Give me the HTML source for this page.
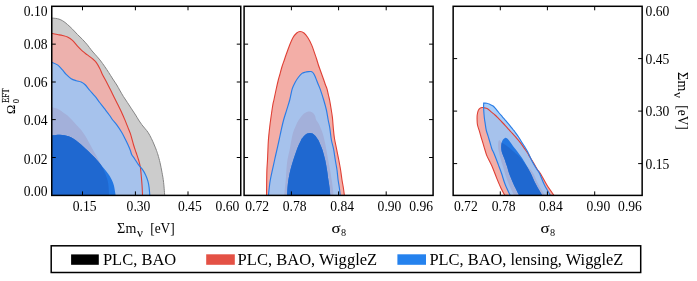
<!DOCTYPE html>
<html><head><meta charset="utf-8"><title>contours</title>
<style>
html,body{margin:0;padding:0;background:#fff;}
svg{display:block;}
text{font-family:"Liberation Serif",serif;fill:#000;}
</style></head>
<body>
<svg width="697" height="281" viewBox="0 0 697 281">
<rect x="0" y="0" width="697" height="281" fill="#ffffff"/>
<defs>
<filter id="noaa" filterUnits="userSpaceOnUse" x="0" y="0" width="697" height="281"><feOffset dx="0" dy="0"/></filter>
<clipPath id="c_p1_B95"><path d="M51.00,61.90 C52.08,62.40 55.58,63.57 57.50,64.90 C59.42,66.23 61.05,68.32 62.50,69.90 C63.95,71.48 64.75,72.93 66.20,74.40 C67.65,75.87 69.53,77.65 71.20,78.70 C72.87,79.75 74.53,80.15 76.20,80.70 C77.87,81.25 79.75,81.37 81.20,82.00 C82.65,82.63 83.45,83.08 84.90,84.50 C86.35,85.92 88.23,88.55 89.90,90.50 C91.57,92.45 93.27,94.20 94.90,96.20 C96.53,98.20 98.10,100.42 99.70,102.50 C101.30,104.58 102.90,106.62 104.50,108.70 C106.10,110.78 107.93,113.12 109.30,115.00 C110.67,116.88 111.48,118.38 112.70,120.00 C113.92,121.62 115.08,122.62 116.60,124.70 C118.12,126.78 120.37,130.12 121.80,132.50 C123.23,134.88 124.15,136.92 125.20,139.00 C126.25,141.08 127.27,143.17 128.10,145.00 C128.93,146.83 129.58,148.38 130.20,150.00 C130.82,151.62 131.07,153.25 131.80,154.70 C132.53,156.15 133.47,157.00 134.60,158.70 C135.73,160.40 137.30,163.12 138.60,164.90 C139.90,166.68 141.23,167.73 142.40,169.40 C143.57,171.07 144.68,172.93 145.60,174.90 C146.52,176.87 147.32,179.12 147.90,181.20 C148.48,183.28 148.77,184.77 149.10,187.40 C149.43,190.03 149.77,195.40 149.90,197.00 L50.00,197.00 L50.00,61.90 Z"/></clipPath>
<clipPath id="c_p1_B68"><path d="M51.00,135.60 C51.83,135.48 54.50,135.05 56.00,134.90 C57.50,134.75 58.58,134.65 60.00,134.70 C61.42,134.75 63.08,134.95 64.50,135.20 C65.92,135.45 66.98,135.62 68.50,136.20 C70.02,136.78 71.92,137.65 73.60,138.70 C75.28,139.75 76.95,141.15 78.60,142.50 C80.25,143.85 81.87,145.35 83.50,146.80 C85.13,148.25 86.78,149.67 88.40,151.20 C90.02,152.73 91.70,154.47 93.20,156.00 C94.70,157.53 95.78,158.53 97.40,160.40 C99.02,162.27 101.17,165.05 102.90,167.20 C104.63,169.35 106.35,171.25 107.80,173.30 C109.25,175.35 110.58,177.45 111.60,179.50 C112.62,181.55 113.18,182.68 113.90,185.60 C114.62,188.52 115.57,195.10 115.90,197.00 L50.00,197.00 L50.00,135.60 Z"/></clipPath>
<clipPath id="c_p2_B95"><path d="M268.30,197.00 C268.45,195.50 268.87,190.83 269.20,188.00 C269.53,185.17 269.78,182.93 270.30,180.00 C270.82,177.07 271.58,173.73 272.30,170.40 C273.02,167.07 274.05,162.48 274.60,160.00 C275.15,157.52 274.85,158.83 275.60,155.50 C276.35,152.17 278.20,144.08 279.10,140.00 C280.00,135.92 280.25,134.33 281.00,131.00 C281.75,127.67 282.65,123.52 283.60,120.00 C284.55,116.48 285.68,113.23 286.70,109.90 C287.72,106.57 288.78,103.50 289.70,100.00 C290.62,96.50 291.28,91.87 292.20,88.90 C293.12,85.93 294.13,84.18 295.20,82.20 C296.27,80.22 297.47,78.47 298.60,77.00 C299.73,75.53 300.93,74.20 302.00,73.40 C303.07,72.60 303.92,72.50 305.00,72.20 C306.08,71.90 307.50,71.72 308.50,71.60 C309.50,71.48 310.35,71.42 311.00,71.50 C311.65,71.58 311.97,71.77 312.40,72.10 C312.83,72.43 313.17,72.82 313.60,73.50 C314.03,74.18 314.48,75.03 315.00,76.20 C315.52,77.37 316.13,79.07 316.70,80.50 C317.27,81.93 317.83,83.40 318.40,84.80 C318.97,86.20 319.22,86.37 320.10,88.90 C320.98,91.43 322.65,96.48 323.70,100.00 C324.75,103.52 325.65,106.67 326.40,110.00 C327.15,113.33 327.63,117.00 328.20,120.00 C328.77,123.00 329.27,124.67 329.80,128.00 C330.33,131.33 330.77,136.47 331.40,140.00 C332.03,143.53 332.95,145.87 333.60,149.20 C334.25,152.53 334.73,156.53 335.30,160.00 C335.87,163.47 336.53,166.67 337.00,170.00 C337.47,173.33 337.70,177.00 338.10,180.00 C338.50,183.00 339.02,185.17 339.40,188.00 C339.78,190.83 340.23,195.50 340.40,197.00 Z"/></clipPath>
<clipPath id="c_p2_B68"><path d="M287.00,197.00 C287.08,195.50 287.27,190.83 287.50,188.00 C287.73,185.17 287.92,183.00 288.40,180.00 C288.88,177.00 289.58,173.33 290.40,170.00 C291.22,166.67 292.23,163.38 293.30,160.00 C294.37,156.62 295.50,153.03 296.80,149.70 C298.10,146.37 300.10,142.03 301.10,140.00 C302.10,137.97 302.18,138.30 302.80,137.50 C303.42,136.70 304.07,135.85 304.80,135.20 C305.53,134.55 306.35,133.98 307.20,133.60 C308.05,133.22 309.00,132.90 309.90,132.90 C310.80,132.90 311.75,133.15 312.60,133.60 C313.45,134.05 314.27,134.83 315.00,135.60 C315.73,136.37 316.45,137.47 317.00,138.20 C317.55,138.93 317.72,138.87 318.30,140.00 C318.88,141.13 319.80,143.33 320.50,145.00 C321.20,146.67 321.72,147.50 322.50,150.00 C323.28,152.50 324.45,156.67 325.20,160.00 C325.95,163.33 326.47,166.67 327.00,170.00 C327.53,173.33 327.97,177.00 328.40,180.00 C328.83,183.00 329.27,185.17 329.60,188.00 C329.93,190.83 330.27,195.50 330.40,197.00 Z"/></clipPath>
<clipPath id="c_p3_B95"><path d="M510.90,197.00 C509.95,194.92 506.77,188.45 505.20,184.50 C503.63,180.55 502.63,176.57 501.50,173.30 C500.37,170.03 499.35,167.45 498.40,164.90 C497.45,162.35 496.57,159.98 495.80,158.00 C495.03,156.02 494.47,154.55 493.80,153.00 C493.13,151.45 492.43,150.45 491.80,148.70 C491.17,146.95 490.62,144.58 490.00,142.50 C489.38,140.42 488.73,138.28 488.10,136.20 C487.47,134.12 486.68,132.08 486.20,130.00 C485.72,127.92 485.52,125.78 485.20,123.70 C484.88,121.62 484.55,119.78 484.30,117.50 C484.05,115.22 483.82,111.92 483.70,110.00 C483.58,108.08 483.60,107.15 483.60,106.00 C483.60,104.85 483.68,103.58 483.70,103.10 L483.70,103.10 C484.22,103.12 485.75,102.98 486.80,103.20 C487.85,103.42 488.95,103.93 490.00,104.40 C491.05,104.87 492.17,105.28 493.10,106.00 C494.03,106.72 494.67,107.62 495.60,108.70 C496.53,109.78 497.57,111.15 498.70,112.50 C499.83,113.85 501.15,115.35 502.40,116.80 C503.65,118.25 504.95,119.73 506.20,121.20 C507.45,122.67 508.77,124.22 509.90,125.60 C511.03,126.98 512.15,128.43 513.00,129.50 C513.85,130.57 514.10,130.80 515.00,132.00 C515.90,133.20 517.27,134.98 518.40,136.70 C519.53,138.42 520.60,140.38 521.80,142.30 C523.00,144.22 524.60,146.58 525.60,148.20 C526.60,149.82 527.05,150.53 527.80,152.00 C528.55,153.47 529.25,155.20 530.10,157.00 C530.95,158.80 531.83,160.83 532.90,162.80 C533.97,164.77 535.37,166.98 536.50,168.80 C537.63,170.62 538.37,171.00 539.70,173.70 C541.03,176.40 542.55,181.12 544.50,185.00 C546.45,188.88 550.25,195.00 551.40,197.00 Z"/></clipPath>
<clipPath id="c_p3_B68"><path d="M520.00,197.00 C518.92,194.83 515.33,188.00 513.50,184.00 C511.67,180.00 510.07,175.90 509.00,173.00 C507.93,170.10 507.85,168.95 507.10,166.60 C506.35,164.25 505.13,160.67 504.50,158.90 C503.87,157.13 503.75,157.15 503.30,156.00 C502.85,154.85 502.15,153.42 501.80,152.00 C501.45,150.58 501.23,148.97 501.20,147.50 C501.17,146.03 501.32,144.50 501.60,143.20 C501.88,141.90 502.32,140.58 502.90,139.70 C503.48,138.82 504.38,138.10 505.10,137.90 C505.82,137.70 506.42,137.90 507.20,138.50 C507.98,139.10 508.87,140.28 509.80,141.50 C510.73,142.72 511.80,144.45 512.80,145.80 C513.80,147.15 514.87,148.38 515.80,149.60 C516.73,150.82 517.57,151.98 518.40,153.10 C519.23,154.22 519.75,154.77 520.80,156.30 C521.85,157.83 523.48,160.28 524.70,162.30 C525.92,164.32 527.12,166.62 528.10,168.40 C529.08,170.18 529.28,170.32 530.60,173.00 C531.92,175.68 533.90,180.50 536.00,184.50 C538.10,188.50 542.00,194.92 543.20,197.00 Z"/></clipPath>
<clipPath id="c_p1_R95"><path d="M51.00,33.20 C52.08,33.42 55.58,34.12 57.50,34.50 C59.42,34.88 60.83,35.08 62.50,35.50 C64.17,35.92 65.83,36.18 67.50,37.00 C69.17,37.82 70.83,38.87 72.50,40.40 C74.17,41.93 75.83,44.40 77.50,46.20 C79.17,48.00 80.85,49.75 82.50,51.20 C84.15,52.65 85.75,53.65 87.40,54.90 C89.05,56.15 90.93,57.45 92.40,58.70 C93.87,59.95 94.95,60.73 96.20,62.40 C97.45,64.07 98.87,66.70 99.90,68.70 C100.93,70.70 101.15,71.90 102.40,74.40 C103.65,76.90 105.73,80.48 107.40,83.70 C109.07,86.92 110.73,90.37 112.40,93.70 C114.07,97.03 115.95,100.78 117.40,103.70 C118.85,106.62 119.85,108.50 121.10,111.20 C122.35,113.90 123.77,117.20 124.90,119.90 C126.03,122.60 126.98,125.10 127.90,127.40 C128.82,129.70 129.45,130.77 130.40,133.70 C131.35,136.63 132.65,141.87 133.60,145.00 C134.55,148.13 135.27,150.00 136.10,152.50 C136.93,155.00 137.88,157.52 138.60,160.00 C139.32,162.48 139.93,164.50 140.40,167.40 C140.87,170.30 141.12,174.27 141.40,177.40 C141.68,180.53 141.90,182.93 142.10,186.20 C142.30,189.47 142.52,195.20 142.60,197.00 L50.00,197.00 L50.00,33.20 Z"/></clipPath>
<clipPath id="c_p3_R95"><path d="M505.70,197.00 C504.90,195.48 502.42,191.08 500.90,187.90 C499.38,184.72 498.12,181.60 496.60,177.90 C495.08,174.20 493.43,169.42 491.80,165.70 C490.17,161.98 487.93,158.22 486.80,155.60 C485.67,152.98 485.62,151.98 485.00,150.00 C484.38,148.02 483.73,145.78 483.10,143.70 C482.47,141.62 481.82,139.58 481.20,137.50 C480.58,135.42 480.02,133.28 479.40,131.20 C478.78,129.12 477.88,126.87 477.50,125.00 C477.12,123.13 477.15,121.67 477.10,120.00 C477.05,118.33 477.00,116.60 477.20,115.00 C477.40,113.40 477.80,111.55 478.30,110.40 C478.80,109.25 479.50,108.58 480.20,108.10 C480.90,107.62 481.92,107.57 482.50,107.50 C483.08,107.43 482.87,107.50 483.70,107.70 C484.53,107.90 486.25,108.00 487.50,108.70 C488.75,109.40 489.95,110.85 491.20,111.90 C492.45,112.95 493.75,113.87 495.00,115.00 C496.25,116.13 497.47,117.45 498.70,118.70 C499.93,119.95 501.27,121.32 502.40,122.50 C503.53,123.68 504.45,124.65 505.50,125.80 C506.55,126.95 507.77,128.37 508.70,129.40 C509.63,130.43 509.92,130.70 511.10,132.00 C512.28,133.30 514.30,135.48 515.80,137.20 C517.30,138.92 518.67,140.43 520.10,142.30 C521.53,144.17 523.10,146.53 524.40,148.40 C525.70,150.27 527.10,152.25 527.90,153.50 C528.70,154.75 528.27,154.35 529.20,155.90 C530.13,157.45 532.17,160.58 533.50,162.80 C534.83,165.02 536.00,167.32 537.20,169.20 C538.40,171.08 539.08,171.47 540.70,174.10 C542.32,176.73 544.50,181.18 546.90,185.00 C549.30,188.82 553.73,195.00 555.10,197.00 Z"/></clipPath>
</defs>
<clipPath id="clip1"><rect x="51.75" y="6.30" width="189.00" height="189.10"/></clipPath>
<g clip-path="url(#clip1)">
<path d="M51.00,18.00 C52.08,18.12 55.58,18.25 57.50,18.70 C59.42,19.15 60.83,19.73 62.50,20.70 C64.17,21.67 65.83,23.08 67.50,24.50 C69.17,25.92 70.83,27.53 72.50,29.20 C74.17,30.87 75.83,32.80 77.50,34.50 C79.17,36.20 80.85,37.67 82.50,39.40 C84.15,41.13 85.95,43.15 87.40,44.90 C88.85,46.65 89.95,48.35 91.20,49.90 C92.45,51.45 93.45,52.53 94.90,54.20 C96.35,55.87 98.23,57.80 99.90,59.90 C101.57,62.00 103.43,64.70 104.90,66.80 C106.37,68.90 107.38,70.47 108.70,72.50 C110.02,74.53 111.45,76.92 112.80,79.00 C114.15,81.08 115.67,83.17 116.80,85.00 C117.93,86.83 118.50,88.08 119.60,90.00 C120.70,91.92 122.10,94.42 123.40,96.50 C124.70,98.58 126.05,100.45 127.40,102.50 C128.75,104.55 130.13,106.72 131.50,108.80 C132.87,110.88 134.42,113.13 135.60,115.00 C136.78,116.87 137.57,118.38 138.60,120.00 C139.63,121.62 140.70,123.23 141.80,124.70 C142.90,126.17 144.15,127.50 145.20,128.80 C146.25,130.10 147.07,130.88 148.10,132.50 C149.13,134.12 150.37,136.42 151.40,138.50 C152.43,140.58 153.45,143.00 154.30,145.00 C155.15,147.00 155.88,148.83 156.50,150.50 C157.12,152.17 157.42,153.00 158.00,155.00 C158.58,157.00 159.33,159.60 160.00,162.50 C160.67,165.40 161.40,169.08 162.00,172.40 C162.60,175.72 163.13,178.30 163.60,182.40 C164.07,186.50 164.60,194.57 164.80,197.00 L50.00,197.00 L50.00,18.00 Z" fill="#cccccc"/>
<path d="M51.00,33.20 C52.08,33.42 55.58,34.12 57.50,34.50 C59.42,34.88 60.83,35.08 62.50,35.50 C64.17,35.92 65.83,36.18 67.50,37.00 C69.17,37.82 70.83,38.87 72.50,40.40 C74.17,41.93 75.83,44.40 77.50,46.20 C79.17,48.00 80.85,49.75 82.50,51.20 C84.15,52.65 85.75,53.65 87.40,54.90 C89.05,56.15 90.93,57.45 92.40,58.70 C93.87,59.95 94.95,60.73 96.20,62.40 C97.45,64.07 98.87,66.70 99.90,68.70 C100.93,70.70 101.15,71.90 102.40,74.40 C103.65,76.90 105.73,80.48 107.40,83.70 C109.07,86.92 110.73,90.37 112.40,93.70 C114.07,97.03 115.95,100.78 117.40,103.70 C118.85,106.62 119.85,108.50 121.10,111.20 C122.35,113.90 123.77,117.20 124.90,119.90 C126.03,122.60 126.98,125.10 127.90,127.40 C128.82,129.70 129.45,130.77 130.40,133.70 C131.35,136.63 132.65,141.87 133.60,145.00 C134.55,148.13 135.27,150.00 136.10,152.50 C136.93,155.00 137.88,157.52 138.60,160.00 C139.32,162.48 139.93,164.50 140.40,167.40 C140.87,170.30 141.12,174.27 141.40,177.40 C141.68,180.53 141.90,182.93 142.10,186.20 C142.30,189.47 142.52,195.20 142.60,197.00 L50.00,197.00 L50.00,33.20 Z" fill="#edb1ad"/>
<path d="M51.00,61.90 C52.08,62.40 55.58,63.57 57.50,64.90 C59.42,66.23 61.05,68.32 62.50,69.90 C63.95,71.48 64.75,72.93 66.20,74.40 C67.65,75.87 69.53,77.65 71.20,78.70 C72.87,79.75 74.53,80.15 76.20,80.70 C77.87,81.25 79.75,81.37 81.20,82.00 C82.65,82.63 83.45,83.08 84.90,84.50 C86.35,85.92 88.23,88.55 89.90,90.50 C91.57,92.45 93.27,94.20 94.90,96.20 C96.53,98.20 98.10,100.42 99.70,102.50 C101.30,104.58 102.90,106.62 104.50,108.70 C106.10,110.78 107.93,113.12 109.30,115.00 C110.67,116.88 111.48,118.38 112.70,120.00 C113.92,121.62 115.08,122.62 116.60,124.70 C118.12,126.78 120.37,130.12 121.80,132.50 C123.23,134.88 124.15,136.92 125.20,139.00 C126.25,141.08 127.27,143.17 128.10,145.00 C128.93,146.83 129.58,148.38 130.20,150.00 C130.82,151.62 131.07,153.25 131.80,154.70 C132.53,156.15 133.47,157.00 134.60,158.70 C135.73,160.40 137.30,163.12 138.60,164.90 C139.90,166.68 141.23,167.73 142.40,169.40 C143.57,171.07 144.68,172.93 145.60,174.90 C146.52,176.87 147.32,179.12 147.90,181.20 C148.48,183.28 148.77,184.77 149.10,187.40 C149.43,190.03 149.77,195.40 149.90,197.00 L50.00,197.00 L50.00,61.90 Z" fill="#a1c6f1"/>
<path d="M51.00,61.90 C52.08,62.40 55.58,63.57 57.50,64.90 C59.42,66.23 61.05,68.32 62.50,69.90 C63.95,71.48 64.75,72.93 66.20,74.40 C67.65,75.87 69.53,77.65 71.20,78.70 C72.87,79.75 74.53,80.15 76.20,80.70 C77.87,81.25 79.75,81.37 81.20,82.00 C82.65,82.63 83.45,83.08 84.90,84.50 C86.35,85.92 88.23,88.55 89.90,90.50 C91.57,92.45 93.27,94.20 94.90,96.20 C96.53,98.20 98.10,100.42 99.70,102.50 C101.30,104.58 102.90,106.62 104.50,108.70 C106.10,110.78 107.93,113.12 109.30,115.00 C110.67,116.88 111.48,118.38 112.70,120.00 C113.92,121.62 115.08,122.62 116.60,124.70 C118.12,126.78 120.37,130.12 121.80,132.50 C123.23,134.88 124.15,136.92 125.20,139.00 C126.25,141.08 127.27,143.17 128.10,145.00 C128.93,146.83 129.58,148.38 130.20,150.00 C130.82,151.62 131.07,153.25 131.80,154.70 C132.53,156.15 133.47,157.00 134.60,158.70 C135.73,160.40 137.30,163.12 138.60,164.90 C139.90,166.68 141.23,167.73 142.40,169.40 C143.57,171.07 144.68,172.93 145.60,174.90 C146.52,176.87 147.32,179.12 147.90,181.20 C148.48,183.28 148.77,184.77 149.10,187.40 C149.43,190.03 149.77,195.40 149.90,197.00 L50.00,197.00 L50.00,61.90 Z" fill="#a6c2ec" clip-path="url(#c_p1_R95)"/>
<path d="M51.00,106.90 C52.08,107.20 55.58,107.87 57.50,108.70 C59.42,109.53 60.83,110.75 62.50,111.90 C64.17,113.05 65.83,114.15 67.50,115.60 C69.17,117.05 71.00,119.03 72.50,120.60 C74.00,122.17 75.05,123.43 76.50,125.00 C77.95,126.57 79.78,128.23 81.20,130.00 C82.62,131.77 83.75,133.62 85.00,135.60 C86.25,137.58 87.47,139.72 88.70,141.90 C89.93,144.08 91.15,146.42 92.40,148.70 C93.65,150.98 94.95,153.30 96.20,155.60 C97.45,157.90 98.65,160.10 99.90,162.50 C101.15,164.90 102.60,167.58 103.70,170.00 C104.80,172.42 105.73,174.67 106.50,177.00 C107.27,179.33 107.87,180.67 108.30,184.00 C108.73,187.33 108.97,194.83 109.10,197.00 L50.00,197.00 L50.00,106.90 Z" fill="#a3b0da" clip-path="url(#c_p1_B95)"/>
<path d="M51.00,135.60 C51.83,135.48 54.50,135.05 56.00,134.90 C57.50,134.75 58.58,134.65 60.00,134.70 C61.42,134.75 63.08,134.95 64.50,135.20 C65.92,135.45 66.98,135.62 68.50,136.20 C70.02,136.78 71.92,137.65 73.60,138.70 C75.28,139.75 76.95,141.15 78.60,142.50 C80.25,143.85 81.87,145.35 83.50,146.80 C85.13,148.25 86.78,149.67 88.40,151.20 C90.02,152.73 91.70,154.47 93.20,156.00 C94.70,157.53 95.78,158.53 97.40,160.40 C99.02,162.27 101.17,165.05 102.90,167.20 C104.63,169.35 106.35,171.25 107.80,173.30 C109.25,175.35 110.58,177.45 111.60,179.50 C112.62,181.55 113.18,182.68 113.90,185.60 C114.62,188.52 115.57,195.10 115.90,197.00 L50.00,197.00 L50.00,135.60 Z" fill="#2377e2"/>
<path d="M51.00,106.90 C52.08,107.20 55.58,107.87 57.50,108.70 C59.42,109.53 60.83,110.75 62.50,111.90 C64.17,113.05 65.83,114.15 67.50,115.60 C69.17,117.05 71.00,119.03 72.50,120.60 C74.00,122.17 75.05,123.43 76.50,125.00 C77.95,126.57 79.78,128.23 81.20,130.00 C82.62,131.77 83.75,133.62 85.00,135.60 C86.25,137.58 87.47,139.72 88.70,141.90 C89.93,144.08 91.15,146.42 92.40,148.70 C93.65,150.98 94.95,153.30 96.20,155.60 C97.45,157.90 98.65,160.10 99.90,162.50 C101.15,164.90 102.60,167.58 103.70,170.00 C104.80,172.42 105.73,174.67 106.50,177.00 C107.27,179.33 107.87,180.67 108.30,184.00 C108.73,187.33 108.97,194.83 109.10,197.00 L50.00,197.00 L50.00,106.90 Z" fill="#1f68d0" clip-path="url(#c_p1_B68)"/>
<path d="M51.00,18.00 C52.08,18.12 55.58,18.25 57.50,18.70 C59.42,19.15 60.83,19.73 62.50,20.70 C64.17,21.67 65.83,23.08 67.50,24.50 C69.17,25.92 70.83,27.53 72.50,29.20 C74.17,30.87 75.83,32.80 77.50,34.50 C79.17,36.20 80.85,37.67 82.50,39.40 C84.15,41.13 85.95,43.15 87.40,44.90 C88.85,46.65 89.95,48.35 91.20,49.90 C92.45,51.45 93.45,52.53 94.90,54.20 C96.35,55.87 98.23,57.80 99.90,59.90 C101.57,62.00 103.43,64.70 104.90,66.80 C106.37,68.90 107.38,70.47 108.70,72.50 C110.02,74.53 111.45,76.92 112.80,79.00 C114.15,81.08 115.67,83.17 116.80,85.00 C117.93,86.83 118.50,88.08 119.60,90.00 C120.70,91.92 122.10,94.42 123.40,96.50 C124.70,98.58 126.05,100.45 127.40,102.50 C128.75,104.55 130.13,106.72 131.50,108.80 C132.87,110.88 134.42,113.13 135.60,115.00 C136.78,116.87 137.57,118.38 138.60,120.00 C139.63,121.62 140.70,123.23 141.80,124.70 C142.90,126.17 144.15,127.50 145.20,128.80 C146.25,130.10 147.07,130.88 148.10,132.50 C149.13,134.12 150.37,136.42 151.40,138.50 C152.43,140.58 153.45,143.00 154.30,145.00 C155.15,147.00 155.88,148.83 156.50,150.50 C157.12,152.17 157.42,153.00 158.00,155.00 C158.58,157.00 159.33,159.60 160.00,162.50 C160.67,165.40 161.40,169.08 162.00,172.40 C162.60,175.72 163.13,178.30 163.60,182.40 C164.07,186.50 164.60,194.57 164.80,197.00 L50.00,197.00 L50.00,18.00 Z" fill="none" stroke="#858585" stroke-width="1.0" stroke-opacity="1.0"/>
<path d="M51.00,33.20 C52.08,33.42 55.58,34.12 57.50,34.50 C59.42,34.88 60.83,35.08 62.50,35.50 C64.17,35.92 65.83,36.18 67.50,37.00 C69.17,37.82 70.83,38.87 72.50,40.40 C74.17,41.93 75.83,44.40 77.50,46.20 C79.17,48.00 80.85,49.75 82.50,51.20 C84.15,52.65 85.75,53.65 87.40,54.90 C89.05,56.15 90.93,57.45 92.40,58.70 C93.87,59.95 94.95,60.73 96.20,62.40 C97.45,64.07 98.87,66.70 99.90,68.70 C100.93,70.70 101.15,71.90 102.40,74.40 C103.65,76.90 105.73,80.48 107.40,83.70 C109.07,86.92 110.73,90.37 112.40,93.70 C114.07,97.03 115.95,100.78 117.40,103.70 C118.85,106.62 119.85,108.50 121.10,111.20 C122.35,113.90 123.77,117.20 124.90,119.90 C126.03,122.60 126.98,125.10 127.90,127.40 C128.82,129.70 129.45,130.77 130.40,133.70 C131.35,136.63 132.65,141.87 133.60,145.00 C134.55,148.13 135.27,150.00 136.10,152.50 C136.93,155.00 137.88,157.52 138.60,160.00 C139.32,162.48 139.93,164.50 140.40,167.40 C140.87,170.30 141.12,174.27 141.40,177.40 C141.68,180.53 141.90,182.93 142.10,186.20 C142.30,189.47 142.52,195.20 142.60,197.00 L50.00,197.00 L50.00,33.20 Z" fill="none" stroke="#df3f34" stroke-width="1.1" stroke-opacity="1.0"/>
<path d="M51.00,61.90 C52.08,62.40 55.58,63.57 57.50,64.90 C59.42,66.23 61.05,68.32 62.50,69.90 C63.95,71.48 64.75,72.93 66.20,74.40 C67.65,75.87 69.53,77.65 71.20,78.70 C72.87,79.75 74.53,80.15 76.20,80.70 C77.87,81.25 79.75,81.37 81.20,82.00 C82.65,82.63 83.45,83.08 84.90,84.50 C86.35,85.92 88.23,88.55 89.90,90.50 C91.57,92.45 93.27,94.20 94.90,96.20 C96.53,98.20 98.10,100.42 99.70,102.50 C101.30,104.58 102.90,106.62 104.50,108.70 C106.10,110.78 107.93,113.12 109.30,115.00 C110.67,116.88 111.48,118.38 112.70,120.00 C113.92,121.62 115.08,122.62 116.60,124.70 C118.12,126.78 120.37,130.12 121.80,132.50 C123.23,134.88 124.15,136.92 125.20,139.00 C126.25,141.08 127.27,143.17 128.10,145.00 C128.93,146.83 129.58,148.38 130.20,150.00 C130.82,151.62 131.07,153.25 131.80,154.70 C132.53,156.15 133.47,157.00 134.60,158.70 C135.73,160.40 137.30,163.12 138.60,164.90 C139.90,166.68 141.23,167.73 142.40,169.40 C143.57,171.07 144.68,172.93 145.60,174.90 C146.52,176.87 147.32,179.12 147.90,181.20 C148.48,183.28 148.77,184.77 149.10,187.40 C149.43,190.03 149.77,195.40 149.90,197.00 L50.00,197.00 L50.00,61.90 Z" fill="none" stroke="#2a7de6" stroke-width="1.15" stroke-opacity="1.0"/>
</g>
<clipPath id="clip2"><rect x="244.10" y="6.30" width="189.00" height="189.10"/></clipPath>
<g clip-path="url(#clip2)">
<path d="M266.50,197.00 C266.52,195.50 266.57,190.83 266.60,188.00 C266.63,185.17 266.65,183.00 266.70,180.00 C266.75,177.00 266.77,173.33 266.90,170.00 C267.03,166.67 267.35,162.83 267.50,160.00 C267.65,157.17 267.65,156.33 267.80,153.00 C267.95,149.67 268.10,144.17 268.40,140.00 C268.70,135.83 269.23,131.33 269.60,128.00 C269.97,124.67 270.07,123.83 270.60,120.00 C271.13,116.17 272.25,108.33 272.80,105.00 C273.35,101.67 273.37,102.50 273.90,100.00 C274.43,97.50 275.27,93.33 276.00,90.00 C276.73,86.67 277.68,82.50 278.30,80.00 C278.92,77.50 279.10,77.17 279.70,75.00 C280.30,72.83 281.13,69.50 281.90,67.00 C282.67,64.50 283.62,62.00 284.30,60.00 C284.98,58.00 285.18,57.30 286.00,55.00 C286.82,52.70 288.05,49.07 289.20,46.20 C290.35,43.33 291.65,40.00 292.90,37.80 C294.15,35.60 295.50,34.05 296.70,33.00 C297.90,31.95 298.88,31.50 300.10,31.50 C301.32,31.50 302.70,31.95 304.00,33.00 C305.30,34.05 306.63,35.82 307.90,37.80 C309.17,39.78 310.38,42.05 311.60,44.90 C312.82,47.75 314.32,52.38 315.20,54.90 C316.08,57.42 316.37,58.32 316.90,60.00 C317.43,61.68 317.85,63.33 318.40,65.00 C318.95,66.67 319.60,68.33 320.20,70.00 C320.80,71.67 321.40,73.33 322.00,75.00 C322.60,76.67 323.22,78.33 323.80,80.00 C324.38,81.67 324.97,83.52 325.50,85.00 C326.03,86.48 326.52,87.23 327.00,88.90 C327.48,90.57 327.97,93.15 328.40,95.00 C328.83,96.85 329.20,98.00 329.60,100.00 C330.00,102.00 330.33,104.10 330.80,107.00 C331.27,109.90 331.98,113.90 332.40,117.40 C332.82,120.90 332.97,124.57 333.30,128.00 C333.63,131.43 333.85,134.47 334.40,138.00 C334.95,141.53 335.87,145.53 336.60,149.20 C337.33,152.87 338.13,156.53 338.80,160.00 C339.47,163.47 340.07,166.67 340.60,170.00 C341.13,173.33 341.53,177.00 342.00,180.00 C342.47,183.00 342.97,185.17 343.40,188.00 C343.83,190.83 344.40,195.50 344.60,197.00 Z" fill="#f3aea7"/>
<path d="M268.30,197.00 C268.45,195.50 268.87,190.83 269.20,188.00 C269.53,185.17 269.78,182.93 270.30,180.00 C270.82,177.07 271.58,173.73 272.30,170.40 C273.02,167.07 274.05,162.48 274.60,160.00 C275.15,157.52 274.85,158.83 275.60,155.50 C276.35,152.17 278.20,144.08 279.10,140.00 C280.00,135.92 280.25,134.33 281.00,131.00 C281.75,127.67 282.65,123.52 283.60,120.00 C284.55,116.48 285.68,113.23 286.70,109.90 C287.72,106.57 288.78,103.50 289.70,100.00 C290.62,96.50 291.28,91.87 292.20,88.90 C293.12,85.93 294.13,84.18 295.20,82.20 C296.27,80.22 297.47,78.47 298.60,77.00 C299.73,75.53 300.93,74.20 302.00,73.40 C303.07,72.60 303.92,72.50 305.00,72.20 C306.08,71.90 307.50,71.72 308.50,71.60 C309.50,71.48 310.35,71.42 311.00,71.50 C311.65,71.58 311.97,71.77 312.40,72.10 C312.83,72.43 313.17,72.82 313.60,73.50 C314.03,74.18 314.48,75.03 315.00,76.20 C315.52,77.37 316.13,79.07 316.70,80.50 C317.27,81.93 317.83,83.40 318.40,84.80 C318.97,86.20 319.22,86.37 320.10,88.90 C320.98,91.43 322.65,96.48 323.70,100.00 C324.75,103.52 325.65,106.67 326.40,110.00 C327.15,113.33 327.63,117.00 328.20,120.00 C328.77,123.00 329.27,124.67 329.80,128.00 C330.33,131.33 330.77,136.47 331.40,140.00 C332.03,143.53 332.95,145.87 333.60,149.20 C334.25,152.53 334.73,156.53 335.30,160.00 C335.87,163.47 336.53,166.67 337.00,170.00 C337.47,173.33 337.70,177.00 338.10,180.00 C338.50,183.00 339.02,185.17 339.40,188.00 C339.78,190.83 340.23,195.50 340.40,197.00 Z" fill="#a6c2ec"/>
<path d="M284.10,197.00 C284.23,195.50 284.62,190.83 284.90,188.00 C285.18,185.17 285.55,183.00 285.80,180.00 C286.05,177.00 286.13,173.33 286.40,170.00 C286.67,166.67 286.87,163.33 287.40,160.00 C287.93,156.67 288.93,153.33 289.60,150.00 C290.27,146.67 290.82,142.92 291.40,140.00 C291.98,137.08 292.40,134.80 293.10,132.50 C293.80,130.20 294.67,128.28 295.60,126.20 C296.53,124.12 297.38,122.03 298.70,120.00 C300.02,117.97 302.12,115.33 303.50,114.00 C304.88,112.67 306.00,112.42 307.00,112.00 C308.00,111.58 308.67,111.45 309.50,111.50 C310.33,111.55 311.10,111.63 312.00,112.30 C312.90,112.97 314.20,114.22 314.90,115.50 C315.60,116.78 315.57,118.63 316.20,120.00 C316.83,121.37 317.67,121.62 318.70,123.70 C319.73,125.78 321.45,129.78 322.40,132.50 C323.35,135.22 323.73,137.08 324.40,140.00 C325.07,142.92 325.77,146.67 326.40,150.00 C327.03,153.33 327.58,156.67 328.20,160.00 C328.82,163.33 329.52,166.67 330.10,170.00 C330.68,173.33 331.25,177.00 331.70,180.00 C332.15,183.00 332.47,185.17 332.80,188.00 C333.13,190.83 333.55,195.50 333.70,197.00 Z" fill="#a3b0da" clip-path="url(#c_p2_B95)"/>
<path d="M287.00,197.00 C287.08,195.50 287.27,190.83 287.50,188.00 C287.73,185.17 287.92,183.00 288.40,180.00 C288.88,177.00 289.58,173.33 290.40,170.00 C291.22,166.67 292.23,163.38 293.30,160.00 C294.37,156.62 295.50,153.03 296.80,149.70 C298.10,146.37 300.10,142.03 301.10,140.00 C302.10,137.97 302.18,138.30 302.80,137.50 C303.42,136.70 304.07,135.85 304.80,135.20 C305.53,134.55 306.35,133.98 307.20,133.60 C308.05,133.22 309.00,132.90 309.90,132.90 C310.80,132.90 311.75,133.15 312.60,133.60 C313.45,134.05 314.27,134.83 315.00,135.60 C315.73,136.37 316.45,137.47 317.00,138.20 C317.55,138.93 317.72,138.87 318.30,140.00 C318.88,141.13 319.80,143.33 320.50,145.00 C321.20,146.67 321.72,147.50 322.50,150.00 C323.28,152.50 324.45,156.67 325.20,160.00 C325.95,163.33 326.47,166.67 327.00,170.00 C327.53,173.33 327.97,177.00 328.40,180.00 C328.83,183.00 329.27,185.17 329.60,188.00 C329.93,190.83 330.27,195.50 330.40,197.00 Z" fill="#2377e2"/>
<path d="M284.10,197.00 C284.23,195.50 284.62,190.83 284.90,188.00 C285.18,185.17 285.55,183.00 285.80,180.00 C286.05,177.00 286.13,173.33 286.40,170.00 C286.67,166.67 286.87,163.33 287.40,160.00 C287.93,156.67 288.93,153.33 289.60,150.00 C290.27,146.67 290.82,142.92 291.40,140.00 C291.98,137.08 292.40,134.80 293.10,132.50 C293.80,130.20 294.67,128.28 295.60,126.20 C296.53,124.12 297.38,122.03 298.70,120.00 C300.02,117.97 302.12,115.33 303.50,114.00 C304.88,112.67 306.00,112.42 307.00,112.00 C308.00,111.58 308.67,111.45 309.50,111.50 C310.33,111.55 311.10,111.63 312.00,112.30 C312.90,112.97 314.20,114.22 314.90,115.50 C315.60,116.78 315.57,118.63 316.20,120.00 C316.83,121.37 317.67,121.62 318.70,123.70 C319.73,125.78 321.45,129.78 322.40,132.50 C323.35,135.22 323.73,137.08 324.40,140.00 C325.07,142.92 325.77,146.67 326.40,150.00 C327.03,153.33 327.58,156.67 328.20,160.00 C328.82,163.33 329.52,166.67 330.10,170.00 C330.68,173.33 331.25,177.00 331.70,180.00 C332.15,183.00 332.47,185.17 332.80,188.00 C333.13,190.83 333.55,195.50 333.70,197.00 Z" fill="#1f68d0" clip-path="url(#c_p2_B68)"/>
<path d="M266.50,197.00 C266.52,195.50 266.57,190.83 266.60,188.00 C266.63,185.17 266.65,183.00 266.70,180.00 C266.75,177.00 266.77,173.33 266.90,170.00 C267.03,166.67 267.35,162.83 267.50,160.00 C267.65,157.17 267.65,156.33 267.80,153.00 C267.95,149.67 268.10,144.17 268.40,140.00 C268.70,135.83 269.23,131.33 269.60,128.00 C269.97,124.67 270.07,123.83 270.60,120.00 C271.13,116.17 272.25,108.33 272.80,105.00 C273.35,101.67 273.37,102.50 273.90,100.00 C274.43,97.50 275.27,93.33 276.00,90.00 C276.73,86.67 277.68,82.50 278.30,80.00 C278.92,77.50 279.10,77.17 279.70,75.00 C280.30,72.83 281.13,69.50 281.90,67.00 C282.67,64.50 283.62,62.00 284.30,60.00 C284.98,58.00 285.18,57.30 286.00,55.00 C286.82,52.70 288.05,49.07 289.20,46.20 C290.35,43.33 291.65,40.00 292.90,37.80 C294.15,35.60 295.50,34.05 296.70,33.00 C297.90,31.95 298.88,31.50 300.10,31.50 C301.32,31.50 302.70,31.95 304.00,33.00 C305.30,34.05 306.63,35.82 307.90,37.80 C309.17,39.78 310.38,42.05 311.60,44.90 C312.82,47.75 314.32,52.38 315.20,54.90 C316.08,57.42 316.37,58.32 316.90,60.00 C317.43,61.68 317.85,63.33 318.40,65.00 C318.95,66.67 319.60,68.33 320.20,70.00 C320.80,71.67 321.40,73.33 322.00,75.00 C322.60,76.67 323.22,78.33 323.80,80.00 C324.38,81.67 324.97,83.52 325.50,85.00 C326.03,86.48 326.52,87.23 327.00,88.90 C327.48,90.57 327.97,93.15 328.40,95.00 C328.83,96.85 329.20,98.00 329.60,100.00 C330.00,102.00 330.33,104.10 330.80,107.00 C331.27,109.90 331.98,113.90 332.40,117.40 C332.82,120.90 332.97,124.57 333.30,128.00 C333.63,131.43 333.85,134.47 334.40,138.00 C334.95,141.53 335.87,145.53 336.60,149.20 C337.33,152.87 338.13,156.53 338.80,160.00 C339.47,163.47 340.07,166.67 340.60,170.00 C341.13,173.33 341.53,177.00 342.00,180.00 C342.47,183.00 342.97,185.17 343.40,188.00 C343.83,190.83 344.40,195.50 344.60,197.00 Z" fill="none" stroke="#df3f34" stroke-width="1.1" stroke-opacity="1.0"/>
<path d="M268.30,197.00 C268.45,195.50 268.87,190.83 269.20,188.00 C269.53,185.17 269.78,182.93 270.30,180.00 C270.82,177.07 271.58,173.73 272.30,170.40 C273.02,167.07 274.05,162.48 274.60,160.00 C275.15,157.52 274.85,158.83 275.60,155.50 C276.35,152.17 278.20,144.08 279.10,140.00 C280.00,135.92 280.25,134.33 281.00,131.00 C281.75,127.67 282.65,123.52 283.60,120.00 C284.55,116.48 285.68,113.23 286.70,109.90 C287.72,106.57 288.78,103.50 289.70,100.00 C290.62,96.50 291.28,91.87 292.20,88.90 C293.12,85.93 294.13,84.18 295.20,82.20 C296.27,80.22 297.47,78.47 298.60,77.00 C299.73,75.53 300.93,74.20 302.00,73.40 C303.07,72.60 303.92,72.50 305.00,72.20 C306.08,71.90 307.50,71.72 308.50,71.60 C309.50,71.48 310.35,71.42 311.00,71.50 C311.65,71.58 311.97,71.77 312.40,72.10 C312.83,72.43 313.17,72.82 313.60,73.50 C314.03,74.18 314.48,75.03 315.00,76.20 C315.52,77.37 316.13,79.07 316.70,80.50 C317.27,81.93 317.83,83.40 318.40,84.80 C318.97,86.20 319.22,86.37 320.10,88.90 C320.98,91.43 322.65,96.48 323.70,100.00 C324.75,103.52 325.65,106.67 326.40,110.00 C327.15,113.33 327.63,117.00 328.20,120.00 C328.77,123.00 329.27,124.67 329.80,128.00 C330.33,131.33 330.77,136.47 331.40,140.00 C332.03,143.53 332.95,145.87 333.60,149.20 C334.25,152.53 334.73,156.53 335.30,160.00 C335.87,163.47 336.53,166.67 337.00,170.00 C337.47,173.33 337.70,177.00 338.10,180.00 C338.50,183.00 339.02,185.17 339.40,188.00 C339.78,190.83 340.23,195.50 340.40,197.00 Z" fill="none" stroke="#2a7de6" stroke-width="1.15" stroke-opacity="1.0"/>
</g>
<clipPath id="clip3"><rect x="453.15" y="6.30" width="189.00" height="189.10"/></clipPath>
<g clip-path="url(#clip3)">
<path d="M505.70,197.00 C504.90,195.48 502.42,191.08 500.90,187.90 C499.38,184.72 498.12,181.60 496.60,177.90 C495.08,174.20 493.43,169.42 491.80,165.70 C490.17,161.98 487.93,158.22 486.80,155.60 C485.67,152.98 485.62,151.98 485.00,150.00 C484.38,148.02 483.73,145.78 483.10,143.70 C482.47,141.62 481.82,139.58 481.20,137.50 C480.58,135.42 480.02,133.28 479.40,131.20 C478.78,129.12 477.88,126.87 477.50,125.00 C477.12,123.13 477.15,121.67 477.10,120.00 C477.05,118.33 477.00,116.60 477.20,115.00 C477.40,113.40 477.80,111.55 478.30,110.40 C478.80,109.25 479.50,108.58 480.20,108.10 C480.90,107.62 481.92,107.57 482.50,107.50 C483.08,107.43 482.87,107.50 483.70,107.70 C484.53,107.90 486.25,108.00 487.50,108.70 C488.75,109.40 489.95,110.85 491.20,111.90 C492.45,112.95 493.75,113.87 495.00,115.00 C496.25,116.13 497.47,117.45 498.70,118.70 C499.93,119.95 501.27,121.32 502.40,122.50 C503.53,123.68 504.45,124.65 505.50,125.80 C506.55,126.95 507.77,128.37 508.70,129.40 C509.63,130.43 509.92,130.70 511.10,132.00 C512.28,133.30 514.30,135.48 515.80,137.20 C517.30,138.92 518.67,140.43 520.10,142.30 C521.53,144.17 523.10,146.53 524.40,148.40 C525.70,150.27 527.10,152.25 527.90,153.50 C528.70,154.75 528.27,154.35 529.20,155.90 C530.13,157.45 532.17,160.58 533.50,162.80 C534.83,165.02 536.00,167.32 537.20,169.20 C538.40,171.08 539.08,171.47 540.70,174.10 C542.32,176.73 544.50,181.18 546.90,185.00 C549.30,188.82 553.73,195.00 555.10,197.00 Z" fill="#f3aea7"/>
<path d="M510.90,197.00 C509.95,194.92 506.77,188.45 505.20,184.50 C503.63,180.55 502.63,176.57 501.50,173.30 C500.37,170.03 499.35,167.45 498.40,164.90 C497.45,162.35 496.57,159.98 495.80,158.00 C495.03,156.02 494.47,154.55 493.80,153.00 C493.13,151.45 492.43,150.45 491.80,148.70 C491.17,146.95 490.62,144.58 490.00,142.50 C489.38,140.42 488.73,138.28 488.10,136.20 C487.47,134.12 486.68,132.08 486.20,130.00 C485.72,127.92 485.52,125.78 485.20,123.70 C484.88,121.62 484.55,119.78 484.30,117.50 C484.05,115.22 483.82,111.92 483.70,110.00 C483.58,108.08 483.60,107.15 483.60,106.00 C483.60,104.85 483.68,103.58 483.70,103.10 L483.70,103.10 C484.22,103.12 485.75,102.98 486.80,103.20 C487.85,103.42 488.95,103.93 490.00,104.40 C491.05,104.87 492.17,105.28 493.10,106.00 C494.03,106.72 494.67,107.62 495.60,108.70 C496.53,109.78 497.57,111.15 498.70,112.50 C499.83,113.85 501.15,115.35 502.40,116.80 C503.65,118.25 504.95,119.73 506.20,121.20 C507.45,122.67 508.77,124.22 509.90,125.60 C511.03,126.98 512.15,128.43 513.00,129.50 C513.85,130.57 514.10,130.80 515.00,132.00 C515.90,133.20 517.27,134.98 518.40,136.70 C519.53,138.42 520.60,140.38 521.80,142.30 C523.00,144.22 524.60,146.58 525.60,148.20 C526.60,149.82 527.05,150.53 527.80,152.00 C528.55,153.47 529.25,155.20 530.10,157.00 C530.95,158.80 531.83,160.83 532.90,162.80 C533.97,164.77 535.37,166.98 536.50,168.80 C537.63,170.62 538.37,171.00 539.70,173.70 C541.03,176.40 542.55,181.12 544.50,185.00 C546.45,188.88 550.25,195.00 551.40,197.00 Z" fill="#a8cef9"/>
<path d="M510.90,197.00 C509.95,194.92 506.77,188.45 505.20,184.50 C503.63,180.55 502.63,176.57 501.50,173.30 C500.37,170.03 499.35,167.45 498.40,164.90 C497.45,162.35 496.57,159.98 495.80,158.00 C495.03,156.02 494.47,154.55 493.80,153.00 C493.13,151.45 492.43,150.45 491.80,148.70 C491.17,146.95 490.62,144.58 490.00,142.50 C489.38,140.42 488.73,138.28 488.10,136.20 C487.47,134.12 486.68,132.08 486.20,130.00 C485.72,127.92 485.52,125.78 485.20,123.70 C484.88,121.62 484.55,119.78 484.30,117.50 C484.05,115.22 483.82,111.92 483.70,110.00 C483.58,108.08 483.60,107.15 483.60,106.00 C483.60,104.85 483.68,103.58 483.70,103.10 L483.70,103.10 C484.22,103.12 485.75,102.98 486.80,103.20 C487.85,103.42 488.95,103.93 490.00,104.40 C491.05,104.87 492.17,105.28 493.10,106.00 C494.03,106.72 494.67,107.62 495.60,108.70 C496.53,109.78 497.57,111.15 498.70,112.50 C499.83,113.85 501.15,115.35 502.40,116.80 C503.65,118.25 504.95,119.73 506.20,121.20 C507.45,122.67 508.77,124.22 509.90,125.60 C511.03,126.98 512.15,128.43 513.00,129.50 C513.85,130.57 514.10,130.80 515.00,132.00 C515.90,133.20 517.27,134.98 518.40,136.70 C519.53,138.42 520.60,140.38 521.80,142.30 C523.00,144.22 524.60,146.58 525.60,148.20 C526.60,149.82 527.05,150.53 527.80,152.00 C528.55,153.47 529.25,155.20 530.10,157.00 C530.95,158.80 531.83,160.83 532.90,162.80 C533.97,164.77 535.37,166.98 536.50,168.80 C537.63,170.62 538.37,171.00 539.70,173.70 C541.03,176.40 542.55,181.12 544.50,185.00 C546.45,188.88 550.25,195.00 551.40,197.00 Z" fill="#a6c2ec" clip-path="url(#c_p3_R95)"/>
<path d="M514.80,197.00 C513.78,194.83 510.37,188.00 508.70,184.00 C507.03,180.00 505.75,175.90 504.80,173.00 C503.85,170.10 503.70,168.95 503.00,166.60 C502.30,164.25 501.28,161.33 500.60,158.90 C499.92,156.47 499.28,153.65 498.90,152.00 C498.52,150.35 498.43,150.17 498.30,149.00 C498.17,147.83 498.08,146.25 498.10,145.00 C498.12,143.75 498.15,142.30 498.40,141.50 C498.65,140.70 499.02,139.98 499.60,140.20 C500.18,140.42 500.92,142.02 501.90,142.80 C502.88,143.58 504.33,144.12 505.50,144.90 C506.67,145.68 507.75,146.57 508.90,147.50 C510.05,148.43 511.25,149.50 512.40,150.50 C513.55,151.50 514.83,152.68 515.80,153.50 C516.77,154.32 517.22,154.43 518.20,155.40 C519.18,156.37 520.57,157.87 521.70,159.30 C522.83,160.73 523.73,162.48 525.00,164.00 C526.27,165.52 527.95,166.90 529.30,168.40 C530.65,169.90 531.57,170.32 533.10,173.00 C534.63,175.68 536.35,180.50 538.50,184.50 C540.65,188.50 544.75,194.92 546.00,197.00 Z" fill="#a3b0da" clip-path="url(#c_p3_B95)"/>
<path d="M520.00,197.00 C518.92,194.83 515.33,188.00 513.50,184.00 C511.67,180.00 510.07,175.90 509.00,173.00 C507.93,170.10 507.85,168.95 507.10,166.60 C506.35,164.25 505.13,160.67 504.50,158.90 C503.87,157.13 503.75,157.15 503.30,156.00 C502.85,154.85 502.15,153.42 501.80,152.00 C501.45,150.58 501.23,148.97 501.20,147.50 C501.17,146.03 501.32,144.50 501.60,143.20 C501.88,141.90 502.32,140.58 502.90,139.70 C503.48,138.82 504.38,138.10 505.10,137.90 C505.82,137.70 506.42,137.90 507.20,138.50 C507.98,139.10 508.87,140.28 509.80,141.50 C510.73,142.72 511.80,144.45 512.80,145.80 C513.80,147.15 514.87,148.38 515.80,149.60 C516.73,150.82 517.57,151.98 518.40,153.10 C519.23,154.22 519.75,154.77 520.80,156.30 C521.85,157.83 523.48,160.28 524.70,162.30 C525.92,164.32 527.12,166.62 528.10,168.40 C529.08,170.18 529.28,170.32 530.60,173.00 C531.92,175.68 533.90,180.50 536.00,184.50 C538.10,188.50 542.00,194.92 543.20,197.00 Z" fill="#2377e2"/>
<path d="M514.80,197.00 C513.78,194.83 510.37,188.00 508.70,184.00 C507.03,180.00 505.75,175.90 504.80,173.00 C503.85,170.10 503.70,168.95 503.00,166.60 C502.30,164.25 501.28,161.33 500.60,158.90 C499.92,156.47 499.28,153.65 498.90,152.00 C498.52,150.35 498.43,150.17 498.30,149.00 C498.17,147.83 498.08,146.25 498.10,145.00 C498.12,143.75 498.15,142.30 498.40,141.50 C498.65,140.70 499.02,139.98 499.60,140.20 C500.18,140.42 500.92,142.02 501.90,142.80 C502.88,143.58 504.33,144.12 505.50,144.90 C506.67,145.68 507.75,146.57 508.90,147.50 C510.05,148.43 511.25,149.50 512.40,150.50 C513.55,151.50 514.83,152.68 515.80,153.50 C516.77,154.32 517.22,154.43 518.20,155.40 C519.18,156.37 520.57,157.87 521.70,159.30 C522.83,160.73 523.73,162.48 525.00,164.00 C526.27,165.52 527.95,166.90 529.30,168.40 C530.65,169.90 531.57,170.32 533.10,173.00 C534.63,175.68 536.35,180.50 538.50,184.50 C540.65,188.50 544.75,194.92 546.00,197.00 Z" fill="#1f68d0" clip-path="url(#c_p3_B68)"/>
<path d="M505.70,197.00 C504.90,195.48 502.42,191.08 500.90,187.90 C499.38,184.72 498.12,181.60 496.60,177.90 C495.08,174.20 493.43,169.42 491.80,165.70 C490.17,161.98 487.93,158.22 486.80,155.60 C485.67,152.98 485.62,151.98 485.00,150.00 C484.38,148.02 483.73,145.78 483.10,143.70 C482.47,141.62 481.82,139.58 481.20,137.50 C480.58,135.42 480.02,133.28 479.40,131.20 C478.78,129.12 477.88,126.87 477.50,125.00 C477.12,123.13 477.15,121.67 477.10,120.00 C477.05,118.33 477.00,116.60 477.20,115.00 C477.40,113.40 477.80,111.55 478.30,110.40 C478.80,109.25 479.50,108.58 480.20,108.10 C480.90,107.62 481.92,107.57 482.50,107.50 C483.08,107.43 482.87,107.50 483.70,107.70 C484.53,107.90 486.25,108.00 487.50,108.70 C488.75,109.40 489.95,110.85 491.20,111.90 C492.45,112.95 493.75,113.87 495.00,115.00 C496.25,116.13 497.47,117.45 498.70,118.70 C499.93,119.95 501.27,121.32 502.40,122.50 C503.53,123.68 504.45,124.65 505.50,125.80 C506.55,126.95 507.77,128.37 508.70,129.40 C509.63,130.43 509.92,130.70 511.10,132.00 C512.28,133.30 514.30,135.48 515.80,137.20 C517.30,138.92 518.67,140.43 520.10,142.30 C521.53,144.17 523.10,146.53 524.40,148.40 C525.70,150.27 527.10,152.25 527.90,153.50 C528.70,154.75 528.27,154.35 529.20,155.90 C530.13,157.45 532.17,160.58 533.50,162.80 C534.83,165.02 536.00,167.32 537.20,169.20 C538.40,171.08 539.08,171.47 540.70,174.10 C542.32,176.73 544.50,181.18 546.90,185.00 C549.30,188.82 553.73,195.00 555.10,197.00 Z" fill="none" stroke="#df3f34" stroke-width="1.1" stroke-opacity="1.0"/>
<path d="M510.90,197.00 C509.95,194.92 506.77,188.45 505.20,184.50 C503.63,180.55 502.63,176.57 501.50,173.30 C500.37,170.03 499.35,167.45 498.40,164.90 C497.45,162.35 496.57,159.98 495.80,158.00 C495.03,156.02 494.47,154.55 493.80,153.00 C493.13,151.45 492.43,150.45 491.80,148.70 C491.17,146.95 490.62,144.58 490.00,142.50 C489.38,140.42 488.73,138.28 488.10,136.20 C487.47,134.12 486.68,132.08 486.20,130.00 C485.72,127.92 485.52,125.78 485.20,123.70 C484.88,121.62 484.55,119.78 484.30,117.50 C484.05,115.22 483.82,111.92 483.70,110.00 C483.58,108.08 483.60,107.15 483.60,106.00 C483.60,104.85 483.68,103.58 483.70,103.10 L483.70,103.10 C484.22,103.12 485.75,102.98 486.80,103.20 C487.85,103.42 488.95,103.93 490.00,104.40 C491.05,104.87 492.17,105.28 493.10,106.00 C494.03,106.72 494.67,107.62 495.60,108.70 C496.53,109.78 497.57,111.15 498.70,112.50 C499.83,113.85 501.15,115.35 502.40,116.80 C503.65,118.25 504.95,119.73 506.20,121.20 C507.45,122.67 508.77,124.22 509.90,125.60 C511.03,126.98 512.15,128.43 513.00,129.50 C513.85,130.57 514.10,130.80 515.00,132.00 C515.90,133.20 517.27,134.98 518.40,136.70 C519.53,138.42 520.60,140.38 521.80,142.30 C523.00,144.22 524.60,146.58 525.60,148.20 C526.60,149.82 527.05,150.53 527.80,152.00 C528.55,153.47 529.25,155.20 530.10,157.00 C530.95,158.80 531.83,160.83 532.90,162.80 C533.97,164.77 535.37,166.98 536.50,168.80 C537.63,170.62 538.37,171.00 539.70,173.70 C541.03,176.40 542.55,181.12 544.50,185.00 C546.45,188.88 550.25,195.00 551.40,197.00 Z" fill="none" stroke="#2a7de6" stroke-width="1.15" stroke-opacity="1.0"/>
</g>
<path d="M82.50,195.40 v-4.00 M82.50,6.30 v4.00" stroke="#000" stroke-width="1.0" fill="none"/>
<path d="M135.40,195.40 v-4.00 M135.40,6.30 v4.00" stroke="#000" stroke-width="1.0" fill="none"/>
<path d="M188.00,195.40 v-4.00 M188.00,6.30 v4.00" stroke="#000" stroke-width="1.0" fill="none"/>
<path d="M51.75,44.15 h4.00 M240.75,44.15 h-4.00" stroke="#000" stroke-width="1.0" fill="none"/>
<path d="M51.75,82.00 h4.00 M240.75,82.00 h-4.00" stroke="#000" stroke-width="1.0" fill="none"/>
<path d="M51.75,119.60 h4.00 M240.75,119.60 h-4.00" stroke="#000" stroke-width="1.0" fill="none"/>
<path d="M51.75,157.50 h4.00 M240.75,157.50 h-4.00" stroke="#000" stroke-width="1.0" fill="none"/>
<rect x="51.75" y="6.30" width="189.00" height="189.10" fill="none" stroke="#000" stroke-width="1.5"/>
<path d="M291.40,195.40 v-4.00 M291.40,6.30 v4.00" stroke="#000" stroke-width="1.0" fill="none"/>
<path d="M338.60,195.40 v-4.00 M338.60,6.30 v4.00" stroke="#000" stroke-width="1.0" fill="none"/>
<path d="M386.20,195.40 v-4.00 M386.20,6.30 v4.00" stroke="#000" stroke-width="1.0" fill="none"/>
<path d="M244.10,44.15 h4.00 M433.10,44.15 h-4.00" stroke="#000" stroke-width="1.0" fill="none"/>
<path d="M244.10,82.00 h4.00 M433.10,82.00 h-4.00" stroke="#000" stroke-width="1.0" fill="none"/>
<path d="M244.10,119.60 h4.00 M433.10,119.60 h-4.00" stroke="#000" stroke-width="1.0" fill="none"/>
<path d="M244.10,157.50 h4.00 M433.10,157.50 h-4.00" stroke="#000" stroke-width="1.0" fill="none"/>
<rect x="244.10" y="6.30" width="189.00" height="189.10" fill="none" stroke="#000" stroke-width="1.5"/>
<path d="M500.30,195.40 v-4.00 M500.30,6.30 v4.00" stroke="#000" stroke-width="1.0" fill="none"/>
<path d="M547.40,195.40 v-4.00 M547.40,6.30 v4.00" stroke="#000" stroke-width="1.0" fill="none"/>
<path d="M594.70,195.40 v-4.00 M594.70,6.30 v4.00" stroke="#000" stroke-width="1.0" fill="none"/>
<path d="M453.15,58.60 h4.00 M642.15,58.60 h-4.00" stroke="#000" stroke-width="1.0" fill="none"/>
<path d="M453.15,111.10 h4.00 M642.15,111.10 h-4.00" stroke="#000" stroke-width="1.0" fill="none"/>
<path d="M453.15,163.60 h4.00 M642.15,163.60 h-4.00" stroke="#000" stroke-width="1.0" fill="none"/>
<rect x="453.15" y="6.30" width="189.00" height="189.10" fill="none" stroke="#000" stroke-width="1.5"/>
<g filter="url(#noaa)"><rect x="51.2" y="245.8" width="589.5" height="26.7" fill="#fff" stroke="#000" stroke-width="1.5"/>
<rect x="71.1" y="254.4" width="27.7" height="10.4" fill="#000"/>
<rect x="206.2" y="254.3" width="28.6" height="10.5" fill="#e45145"/>
<rect x="397.4" y="254.3" width="28.6" height="10.5" fill="#2582ee"/>
<text transform="translate(102.9,264.8) scale(1.032,1)" font-size="16">PLC, BAO</text>
<text transform="translate(237.6,264.8) scale(1.034,1)" font-size="16">PLC, BAO, WiggleZ</text>
<text transform="translate(429.5,264.8) scale(1.025,1)" font-size="16">PLC, BAO, lensing, WiggleZ</text><text x="47.50" y="15.60" font-size="13.6" text-anchor="end" >0.10</text>
<text x="47.50" y="48.80" font-size="13.6" text-anchor="end" >0.08</text>
<text x="47.50" y="86.60" font-size="13.6" text-anchor="end" >0.06</text>
<text x="47.50" y="124.50" font-size="13.6" text-anchor="end" >0.04</text>
<text x="47.50" y="163.50" font-size="13.6" text-anchor="end" >0.02</text>
<text x="47.50" y="195.70" font-size="13.6" text-anchor="end" >0.00</text>
<text x="645.60" y="15.80" font-size="13.6" text-anchor="start" >0.60</text>
<text x="645.60" y="63.60" font-size="13.6" text-anchor="start" >0.45</text>
<text x="645.60" y="115.90" font-size="13.6" text-anchor="start" >0.30</text>
<text x="645.60" y="168.80" font-size="13.6" text-anchor="start" >0.15</text>
<text x="72.70" y="210.60" font-size="13.6" text-anchor="start" >0.15</text>
<text x="126.60" y="210.60" font-size="13.6" text-anchor="start" >0.30</text>
<text x="177.90" y="210.60" font-size="13.6" text-anchor="start" >0.45</text>
<text x="215.60" y="210.60" font-size="13.6" text-anchor="start" >0.60</text>
<text x="245.30" y="210.60" font-size="13.6" text-anchor="start" >0.72</text>
<text x="282.70" y="210.60" font-size="13.6" text-anchor="start" >0.78</text>
<text x="330.20" y="210.60" font-size="13.6" text-anchor="start" >0.84</text>
<text x="377.60" y="210.60" font-size="13.6" text-anchor="start" >0.90</text>
<text x="409.30" y="210.60" font-size="13.6" text-anchor="start" >0.96</text>
<text x="453.90" y="210.60" font-size="13.6" text-anchor="start" >0.72</text>
<text x="491.80" y="210.60" font-size="13.6" text-anchor="start" >0.78</text>
<text x="538.90" y="210.60" font-size="13.6" text-anchor="start" >0.84</text>
<text x="586.40" y="210.60" font-size="13.6" text-anchor="start" >0.90</text>
<text x="618.10" y="210.60" font-size="13.6" text-anchor="start" >0.96</text>
<text x="116.90" y="233.00" font-size="14.2" textLength="8.3" lengthAdjust="spacingAndGlyphs">Σ</text><text x="125.40" y="233.00" font-size="14">m</text><text x="136.90" y="236.90" font-size="13">ν</text><text x="150.20" y="233.00" font-size="14" textLength="24.6" lengthAdjust="spacingAndGlyphs">[eV]</text>
<text transform="translate(331.60,232.80) scale(1.12,0.93)" font-size="15" stroke="#000" stroke-width="0.12">σ</text><text x="340.90" y="235.70" font-size="10.2">8</text>
<text transform="translate(540.60,232.80) scale(1.12,0.93)" font-size="15" stroke="#000" stroke-width="0.12">σ</text><text x="549.90" y="235.70" font-size="10.2">8</text>
<g transform="translate(677.9,71.9) rotate(90)"><text x="0.00" y="0.00" font-size="14.2" textLength="8.3" lengthAdjust="spacingAndGlyphs">Σ</text><text x="8.50" y="0.00" font-size="14">m</text><text x="20.00" y="3.90" font-size="13">ν</text><text x="33.30" y="0.00" font-size="14" textLength="24.6" lengthAdjust="spacingAndGlyphs">[eV]</text></g>
<g transform="translate(14.6,113.9) rotate(-90)"><text x="0" y="0" font-size="13.4" textLength="9.2" lengthAdjust="spacingAndGlyphs" stroke="#000" stroke-width="0.1">Ω</text><text x="10.6" y="4.6" font-size="8.6" stroke="#000" stroke-width="0.15">0</text><text x="10.8" y="-6.1" font-size="9.8" textLength="14.8" lengthAdjust="spacingAndGlyphs" stroke="#000" stroke-width="0.15">EFT</text></g></g>

</svg>
</body></html>
